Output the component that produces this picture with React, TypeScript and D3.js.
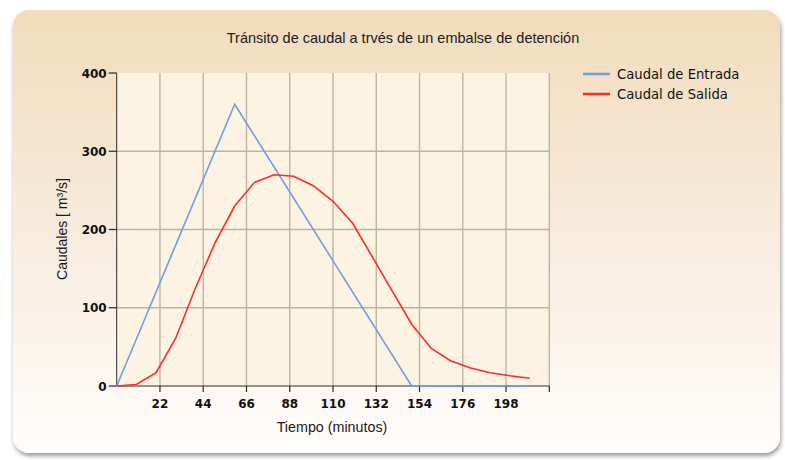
import React from "react";
import * as d3 from "d3";

const tiempoEntrada = [0, 60, 150, 210];
const caudalEntrada = [0, 360, 0, 0];
const tiempoSalida = [0, 10, 20, 30, 40, 50, 60, 70, 80, 90, 100, 110, 120, 130, 140, 150, 160, 170, 180, 190, 200, 210];
const caudalSalida = [0, 2, 17, 61, 125, 183, 230, 260, 270, 268, 256, 236, 208, 165, 122, 79, 48, 32, 23, 17, 13, 10];
const xTicks = [22, 44, 66, 88, 110, 132, 154, 176, 198, 220];
const xTickLabels = ["22", "44", "66", "88", "110", "132", "154", "176", "198", ""];
const yTicks = [0, 100, 200, 300, 400];
const seriesNames = ["Caudal de Entrada", "Caudal de Salida"];
const seriesColors = ["#6c9fe6", "#ff2a2a"];
const title = "Tránsito de caudal a trvés de un embalse de detención";
const xLabel = "Tiempo (minutos)";
const yLabel = "Caudales [ m³/s]";

export default function App() {
  const W = 785, H = 460;
  const x = d3.scaleLinear().domain([0, 220]).range([116.7, 549.3]);
  const y = d3.scaleLinear().domain([0, 400]).range([386, 73]);
  const line = d3.line<[number, number]>().x(d => x(d[0])).y(d => y(d[1]));
  const entrada: [number, number][] = tiempoEntrada.map((t, i) => [t, caudalEntrada[i]]);
  const salida: [number, number][] = tiempoSalida.map((t, i) => [t, caudalSalida[i]]);
  const font = "'Liberation Sans', Arial, sans-serif";
  const tickFont = "'DejaVu Sans', Verdana, sans-serif";
  const gridColor = "#bfb4a4";
  return (
    <svg width={W} height={H} style={{ position: "absolute", left: 0, top: 0 }}>
      <defs>
        <linearGradient id="panel" x1="0" y1="0" x2="0" y2="1">
          <stop offset="0" stopColor="#f2dcbc" />
          <stop offset="0.55" stopColor="#f9ede0" />
          <stop offset="1" stopColor="#fffdfb" />
        </linearGradient>
        <filter id="sh" x="-5%" y="-5%" width="110%" height="115%">
          <feDropShadow dx="1" dy="3" stdDeviation="2" floodColor="#000" floodOpacity="0.4" />
        </filter>
      </defs>
      <rect width={W} height={H} fill="#ffffff" />
      <rect x={13} y={10} width={767} height={443} rx={16} ry={16} fill="url(#panel)" filter="url(#sh)" />
      <text x={403} y={43} textAnchor="middle" fontFamily={font} fontSize={14.5} fill="#1a1a1a">{title}</text>
      <rect x={x(0)} y={y(400)} width={x(220) - x(0)} height={y(0) - y(400)} fill="#fdf3e3" />
      {xTicks.map(t => (
        <line key={"gx" + t} x1={x(t)} x2={x(t)} y1={y(0)} y2={y(400)} stroke={gridColor} strokeWidth={1.4} />
      ))}
      {yTicks.filter(v => v > 0 && v < 400).map(v => (
        <line key={"gy" + v} x1={x(0)} x2={x(220)} y1={y(v)} y2={y(v)} stroke={gridColor} strokeWidth={1.4} />
      ))}
      <line x1={x(0)} x2={x(0)} y1={y(400)} y2={y(0)} stroke="#2a2a2a" strokeWidth={1} />
      <line x1={x(0)} x2={x(220)} y1={y(0)} y2={y(0)} stroke="#2a2a2a" strokeWidth={1.2} />
      {yTicks.map(v => (
        <g key={"ty" + v}>
          <line x1={x(0) - 8} x2={x(0)} y1={y(v)} y2={y(v)} stroke="#2a2a2a" strokeWidth={1.2} />
          <text x={x(0) - 10} y={y(v) + 4.5} textAnchor="end" fontFamily={tickFont} fontSize={12} fontWeight="bold" fill="#111">{v}</text>
        </g>
      ))}
      {xTicks.map((t, i) => (
        <g key={"tx" + t}>
          <line x1={x(t)} x2={x(t)} y1={y(0)} y2={y(0) + 6} stroke="#2a2a2a" strokeWidth={1.2} />
          <text x={x(t)} y={y(0) + 22} textAnchor="middle" fontFamily={tickFont} fontSize={12} fontWeight="bold" fill="#111">{xTickLabels[i]}</text>
        </g>
      ))}
      <text x={332} y={432} textAnchor="middle" fontFamily={font} fontSize={14.3} fill="#1a1a1a">{xLabel}</text>
      <text transform={`translate(67,229) rotate(-90)`} textAnchor="middle" fontFamily={font} fontSize={14} fill="#1a1a1a">{yLabel}</text>
      <path d={line(entrada) || ""} fill="none" stroke={seriesColors[0]} strokeWidth={1.6} />
      <path d={line(salida) || ""} fill="none" stroke={seriesColors[1]} strokeWidth={1.6} />
      {seriesNames.map((n, i) => (
        <g key={n}>
          <line x1={583} x2={610} y1={74 + i * 20} y2={74 + i * 20} stroke={seriesColors[i]} strokeWidth={2.5} />
          <text x={617} y={79 + i * 20} fontFamily={tickFont} fontSize={13.2} fill="#111">{n}</text>
        </g>
      ))}
    </svg>
  );
}
